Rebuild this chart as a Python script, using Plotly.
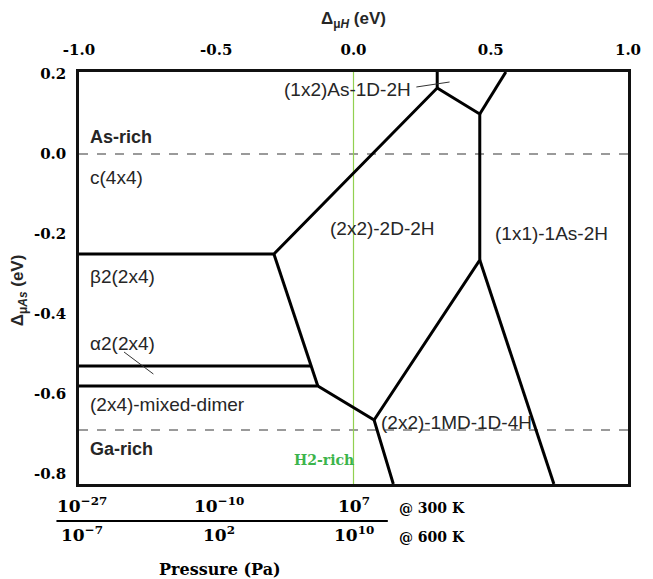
import plotly.graph_objects as go

# ---- phase-diagram data: Δμ_H (eV) along x, Δμ_As (eV) along y ----
# c(4x4) / β2(2x4) boundary, then (2x2)-2D-2H edge up to the top
c4x4_x = [-1.0, -0.29, 0.305, 0.305]
c4x4_y = [-0.25, -0.25, 0.165, 0.205]
# β2(2x4) / α2(2x4) boundary
alpha2_x = [-1.0, -0.155]
alpha2_y = [-0.53, -0.53]
# α2 / mixed-dimer boundary, continuing to the Ga-rich bottom
mixed_x = [-1.0, -0.13, 0.075, 0.145]
mixed_y = [-0.58, -0.58, -0.665, -0.825]
# β2 / (2x2)-2D-2H edge
beta2_x = [-0.29, -0.13]
beta2_y = [-0.25, -0.58]
# (2x2)-2D-2H / (1x1)-1As-2H / (1x2)As-1D-2H edges
d2h_x = [0.075, 0.46, 0.46, 0.305]
d2h_y = [-0.665, -0.265, 0.10, 0.165]
# (1x2) / (1x1) edge to the top
top_x = [0.46, 0.555]
top_y = [0.10, 0.205]
# (1x1) / (2x2)-1MD-1D-4H edge to the bottom
md_x = [0.46, 0.73]
md_y = [-0.265, -0.825]

boundaries = [(c4x4_x, c4x4_y), (alpha2_x, alpha2_y), (mixed_x, mixed_y),
              (beta2_x, beta2_y), (d2h_x, d2h_y), (top_x, top_y), (md_x, md_y)]

# chemical-potential limits
as_rich = 0.0
ga_rich = -0.69
h2_rich = 0.0

# leader lines for small regions
lead_a2_x = [-0.836, -0.729]
lead_a2_y = [-0.495, -0.55]
lead_12_x = [0.229, 0.35]
lead_12_y = [0.1675, 0.18]

x_ticks = [-1.0, -0.5, 0.0, 0.5, 1.0]
x_ticktext = ["-1.0", "-0.5", "0.0", "0.5", "1.0"]
y_ticks = [0.2, 0.0, -0.2, -0.4, -0.6, -0.8]
y_ticktext = ["0.2", "0.0", "-0.2", "-0.4", "-0.6", "-0.8"]

# H2 pressure equivalents of Δμ_H
p_pos = [-0.99, -0.49, 0.0]
p300 = ["10<sup>−27</sup>", "10<sup>−10</sup>", "10<sup>7</sup>"]
p600 = ["10<sup>−7</sup>", "10<sup>2</sup>", "10<sup>10</sup>"]

XR = [-1.0, 1.0]
YR = [-0.825, 0.205]

fig = go.Figure()

# limits (dashed) and H2-rich line
for yv in (as_rich, ga_rich):
    fig.add_trace(go.Scatter(x=XR, y=[yv, yv], mode="lines",
                             line=dict(color="#7a7a7a", width=1.5, dash="dash"),
                             hoverinfo="skip", showlegend=False))
fig.add_trace(go.Scatter(x=[h2_rich, h2_rich], y=YR, mode="lines",
                         line=dict(color="#92d050", width=1.2),
                         hoverinfo="skip", showlegend=False))

for bx, by in boundaries:
    fig.add_trace(go.Scatter(x=bx, y=by, mode="lines",
                             line=dict(color="black", width=3),
                             hoverinfo="skip", showlegend=False))

for lx, ly in ((lead_a2_x, lead_a2_y), (lead_12_x, lead_12_y)):
    fig.add_trace(go.Scatter(x=lx, y=ly, mode="lines",
                             line=dict(color="#333333", width=1),
                             hoverinfo="skip", showlegend=False))

SANS = "Liberation Sans, Arial, sans-serif"
SERIF = "DejaVu Serif, serif"
TXT = "#262626"

def label(x, y, text, anchor="left", bold=False, color=TXT, size=19, family=SANS):
    fig.add_annotation(x=x, y=y, xref="x", yref="y", text=f"<b>{text}</b>" if bold else text,
                       showarrow=False, xanchor=anchor, yanchor="middle",
                       font=dict(family=family, size=size, color=color))

label(-0.968, 0.0425, "As-rich", bold=True, size=18)
label(-0.968, -0.0575, "c(4x4)")
label(-0.968, -0.305, "β2(2x4)")
label(-0.968, -0.4725, "α2(2x4)")
label(-0.968, -0.625, "(2x4)-mixed-dimer")
label(-0.968, -0.7375, "Ga-rich", bold=True, size=18)
label(0.107, -0.185, "(2x2)-2D-2H", anchor="center")
label(0.72, -0.1975, "(1x1)-1As-2H", anchor="center")
label(0.218, 0.1625, "(1x2)As-1D-2H", anchor="right")
label(0.093, -0.67, "(2x2)-1MD-1D-4H")
label(-0.107, -0.765, "H2-rich", anchor="center", bold=True, color="#3cb44b",
      size=14, family=SERIF)

# pixel-to-paper helpers for the pressure scale under the frame
PLOT_TOP, PLOT_BOT, PLOT_L, PLOT_R = 72, 484, 79, 639
def py(v):
    return (PLOT_BOT - v) / (PLOT_BOT - PLOT_TOP)
def px(v):
    return (v - PLOT_L) / (PLOT_R - PLOT_L)

for xv, t1, t2 in zip(p_pos, p300, p600):
    fig.add_annotation(x=xv, y=py(505), xref="x", yref="paper", text=f"<b>{t1}</b>",
                       showarrow=False, xanchor="center", yanchor="middle",
                       font=dict(family=SERIF, size=17, color="black"))
    fig.add_annotation(x=xv, y=py(534), xref="x", yref="paper", text=f"<b>{t2}</b>",
                       showarrow=False, xanchor="center", yanchor="middle",
                       font=dict(family=SERIF, size=17, color="black"))
fig.add_annotation(x=0.16, y=py(508), xref="x", yref="paper", text="<b>@ 300 K</b>",
                   showarrow=False, xanchor="left", yanchor="middle",
                   font=dict(family=SERIF, size=14, color="black"))
fig.add_annotation(x=0.16, y=py(537), xref="x", yref="paper", text="<b>@ 600 K</b>",
                   showarrow=False, xanchor="left", yanchor="middle",
                   font=dict(family=SERIF, size=14, color="black"))
fig.add_shape(type="line", xref="paper", yref="paper",
              x0=px(56), x1=px(394), y0=py(521), y1=py(521),
              line=dict(color="black", width=2))
fig.add_annotation(x=px(223), y=py(569), xref="paper", yref="paper",
                   text="<b>Pressure (Pa)</b>", showarrow=False,
                   xanchor="center", yanchor="middle",
                   font=dict(family=SERIF, size=16, color="black"))

# axis titles
fig.add_annotation(x=0.5, y=py(20), xref="paper", yref="paper",
                   text="<b>Δ<sub>μ<i>H</i></sub> (eV)</b>", showarrow=False,
                   xanchor="center", yanchor="middle",
                   font=dict(family=SANS, size=17, color=TXT))
fig.add_annotation(x=px(18), y=py(290), xref="paper", yref="paper",
                   text="<b>Δ<sub>μ<i>As</i></sub> (eV)</b>", showarrow=False,
                   textangle=-90, xanchor="center", yanchor="middle",
                   font=dict(family=SANS, size=17, color=TXT))

fig.update_layout(
    width=653, height=579,
    margin=dict(l=PLOT_L, r=653 - PLOT_R, t=PLOT_TOP, b=579 - PLOT_BOT, pad=0),
    paper_bgcolor="white", plot_bgcolor="white",
    xaxis=dict(range=XR, side="top", tickvals=x_ticks,
               ticktext=[f"<b>{t}</b>" for t in x_ticktext],
               showgrid=False, zeroline=False, ticks="", ticklabelstandoff=8,
               showline=True, mirror=True, linecolor="#111111", linewidth=2.5,
               tickfont=dict(family=SERIF, size=15, color="black")),
    yaxis=dict(range=YR, tickvals=y_ticks,
               ticktext=[f"<b>{t}</b>" for t in y_ticktext],
               showgrid=False, zeroline=False, ticks="", ticklabelstandoff=7,
               showline=True, mirror=True, linecolor="#111111", linewidth=2.5,
               tickfont=dict(family=SERIF, size=15, color="black")),
)

fig.write_html("out.html")
